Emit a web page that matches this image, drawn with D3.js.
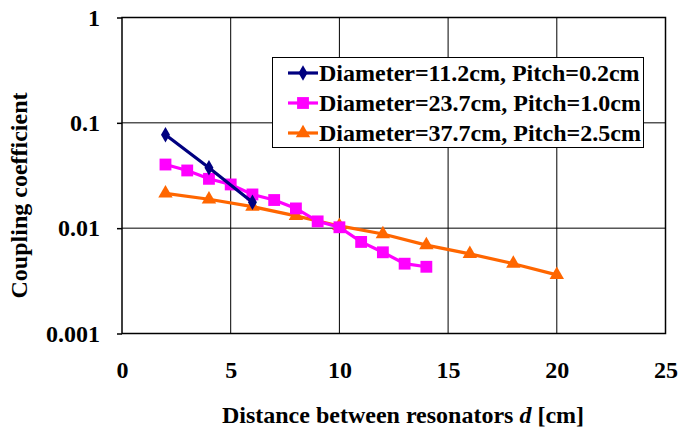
<!DOCTYPE html>
<html>
<head>
<meta charset="utf-8">
<script src="https://cdn.jsdelivr.net/npm/d3@7"></script>
</head>
<body style="margin:0;padding:0;background:#fff">
<svg id="chart" width="678" height="428" style="display:block"></svg>
<script>
// Coupling coefficient vs. distance for three resonator sizes
const xTicks = [0, 5, 10, 15, 20, 25];
const yTicks = [1, 0.1, 0.01, 0.001];
const yTickLabels = ["1", "0.1", "0.01", "0.001"];

const seriesNames = [
  "Diameter=11.2cm, Pitch=0.2cm",
  "Diameter=23.7cm, Pitch=1.0cm",
  "Diameter=37.7cm, Pitch=2.5cm"
];
const seriesColors = ["#000080", "#FF00FF", "#FF6600"];

const dist1 = [2, 4, 6];
const coef1 = [0.077, 0.0375, 0.0176];

const dist2 = [2, 3, 4, 5, 6, 7, 8, 9, 10, 11, 12, 13, 14];
const coef2 = [0.0402, 0.0353, 0.0294, 0.026, 0.0209, 0.0185, 0.0154, 0.0116, 0.0102, 0.0074, 0.0059, 0.0046, 0.0043];

const dist3 = [2, 4, 6, 8, 10, 12, 14, 16, 18, 20];
const coef3 = [0.0214, 0.0188, 0.016, 0.0131, 0.0105, 0.0088, 0.0069, 0.0057, 0.0046, 0.0036];

const FONT_FAMILY = '"Liberation Serif"';
const FONT = 24;

const svg = d3.select("#chart");
const plot = { left: 122, top: 17.5, right: 665.5, bottom: 333.5 };

function styleText(sel) {
  sel.attr("font-family", null)
    .style("font-family", FONT_FAMILY)
    .attr("font-weight", "bold")
    .attr("font-size", FONT)
    .attr("fill", "#000");
}

const x = d3.scaleLinear().domain([0, 25]).range([plot.left, plot.right]);
const y = d3.scaleLog().domain([0.001, 1]).range([plot.bottom, plot.top]);

// gridlines
const grid = svg.append("g");
grid.selectAll("line.vg").data(xTicks.slice(1, -1)).enter().append("line")
  .attr("x1", d => x(d)).attr("x2", d => x(d))
  .attr("y1", plot.top).attr("y2", plot.bottom)
  .attr("stroke", "#000").attr("stroke-width", 1);
grid.selectAll("line.hg").data(yTicks.slice(1, -1)).enter().append("line")
  .attr("x1", plot.left).attr("x2", plot.right)
  .attr("y1", d => y(d)).attr("y2", d => y(d))
  .attr("stroke", "#000").attr("stroke-width", 1);

// plot frame
svg.append("rect")
  .attr("x", plot.left).attr("y", plot.top)
  .attr("width", plot.right - plot.left).attr("height", plot.bottom - plot.top)
  .attr("fill", "none").attr("stroke", "#000").attr("stroke-width", 1.5);

// y axis (log scale, decade ticks)
const yAxis = d3.axisLeft(y).tickValues(yTicks)
  .tickFormat((d, i) => yTickLabels[i]).tickSize(5).tickPadding(17);
const gy = svg.append("g").attr("transform", `translate(${plot.left},0)`).call(yAxis);
gy.attr("font-family", null).attr("font-size", null);
gy.select(".domain").remove();
gy.selectAll("line").attr("stroke", "#000").attr("stroke-width", 1.5);
gy.selectAll("text").call(styleText);

// x axis
const xAxis = d3.axisBottom(x).tickValues(xTicks).tickSize(0).tickPadding(27.5);
const gx = svg.append("g").attr("transform", `translate(0,${plot.bottom})`).call(xAxis);
gx.attr("font-family", null).attr("font-size", null);
gx.select(".domain").remove();
gx.selectAll("text").call(styleText);

// axis titles
svg.append("text")
  .attr("transform", `translate(27,${(plot.top + plot.bottom) / 2 + 20}) rotate(-90)`)
  .attr("text-anchor", "middle")
  .call(styleText)
  .text("Coupling coefficient");

const xt = svg.append("text")
  .attr("x", 403).attr("y", 423)
  .attr("text-anchor", "middle")
  .call(styleText);
xt.append("tspan").text("Distance between resonators ");
xt.append("tspan").attr("font-style", "italic").text("d");
xt.append("tspan").text(" [cm]");

// marker shapes
const markerDefs = [
  { type: d3.symbolDiamond, size: 70 },
  { type: d3.symbolSquare, size: 140 },
  { type: d3.symbolTriangle, size: 90 }
];

const series = [
  dist1.map((d, i) => [d, coef1[i]]),
  dist2.map((d, i) => [d, coef2[i]]),
  dist3.map((d, i) => [d, coef3[i]])
];

const line = d3.line().x(d => x(d[0])).y(d => y(d[1]));

// orange first, navy last so it sits on top
[2, 1, 0].forEach(k => {
  const g = svg.append("g");
  g.append("path").datum(series[k]).attr("d", line)
    .attr("fill", "none").attr("stroke", seriesColors[k]).attr("stroke-width", 3.2);
  g.selectAll("path.m").data(series[k]).enter().append("path")
    .attr("transform", d => `translate(${x(d[0])},${y(d[1])})`)
    .attr("d", d3.symbol().type(markerDefs[k].type).size(markerDefs[k].size))
    .attr("fill", seriesColors[k]);
});

// legend
const leg = svg.append("g");
leg.append("rect").attr("x", 272.5).attr("y", 57.5).attr("width", 371).attr("height", 90)
  .attr("fill", "#fff").attr("stroke", "#000").attr("stroke-width", 1);
seriesNames.forEach((name, k) => {
  const cy = 73 + k * 30;
  leg.append("line").attr("x1", 288).attr("x2", 318).attr("y1", cy).attr("y2", cy)
    .attr("stroke", seriesColors[k]).attr("stroke-width", 3.2);
  leg.append("path").attr("transform", `translate(303,${cy})`)
    .attr("d", d3.symbol().type(markerDefs[k].type).size(markerDefs[k].size))
    .attr("fill", seriesColors[k]);
  leg.append("text").attr("x", 319).attr("y", cy + 8).call(styleText).text(name);
});
</script>
</body>
</html>
